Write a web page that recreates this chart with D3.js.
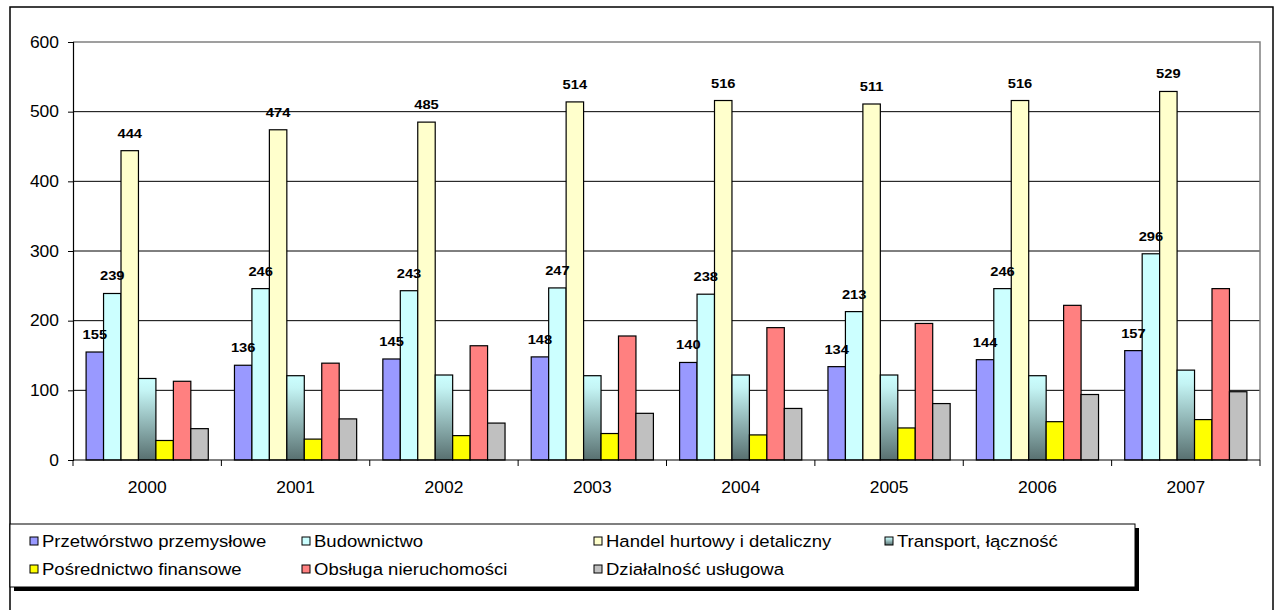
<!DOCTYPE html>
<html>
<head>
<meta charset="utf-8">
<script src="https://cdn.jsdelivr.net/npm/d3@7"></script>
<style>
    body { margin: 0; background: #fff; }
    svg { display: block; font-family: Arial, 'Liberation Sans', sans-serif; }
</style>
</head>
<body>
<div id="chart"></div>
<script>
'use strict';

var years = ['2000', '2001', '2002', '2003', '2004', '2005', '2006', '2007'];
var seriesNames = ['Przetwórstwo przemysłowe', 'Budownictwo', 'Handel hurtowy i detaliczny',
    'Transport, łączność', 'Pośrednictwo finansowe', 'Obsługa nieruchomości', 'Działalność usługowa'];
var przetworstwo = [155, 136, 145, 148, 140, 134, 144, 157];
var budownictwo = [239, 246, 243, 247, 238, 213, 246, 296];
var handel = [444, 474, 485, 514, 516, 511, 516, 529];
var transport = [117, 121, 122, 121, 122, 122, 121, 129];
var finanse = [28, 30, 35, 38, 36, 46, 55, 58];
var nieruchomosci = [113, 139, 164, 178, 190, 196, 222, 246];
var uslugi = [45, 59, 53, 67, 74, 81, 94, 98];
var yTicks = [0, 100, 200, 300, 400, 500, 600];
// only the first three series carry value labels
var labelled = [true, true, true, false, false, false, false];

var seriesValues = [przetworstwo, budownictwo, handel, transport, finanse, nieruchomosci, uslugi];
var fills = ['#9999ff', '#ccffff', '#ffffcc', 'url(#transGrad)', '#ffff00', '#ff8080', '#c0c0c0'];

var width = 1277, height = 610;
var plot = {left: 73, right: 1260, top: 42, bottom: 460};
var sx = 1.09; // the original picture is a bit wider than it is tall

var svg = d3.select('#chart').append('svg')
    .attr('width', width)
    .attr('height', height);

var grad = svg.append('defs').append('linearGradient')
    .attr('id', 'transGrad')
    .attr('x1', 0).attr('y1', 0).attr('x2', 0).attr('y2', 1);
grad.append('stop').attr('offset', '0%').attr('stop-color', '#ccffff');
grad.append('stop').attr('offset', '15%').attr('stop-color', '#c4f4f4');
grad.append('stop').attr('offset', '100%').attr('stop-color', '#587070');

// outer chart frame
svg.append('rect')
    .attr('x', 10).attr('y', 7)
    .attr('width', 1263).attr('height', 640)
    .attr('fill', '#fff')
    .attr('stroke', '#000')
    .attr('stroke-width', 1.5);

var x0 = d3.scaleBand()
    .domain(years)
    .range([plot.left, plot.right])
    .paddingInner(0).paddingOuter(0);

var x1 = d3.scaleBand()
    .domain(d3.range(seriesNames.length))
    .range([0, x0.bandwidth()])
    .paddingInner(0).paddingOuter(0.75);

var y = d3.scaleLinear()
    .domain([0, 600])
    .range([plot.bottom, plot.top]);

// gridlines
svg.append('g').selectAll('line')
    .data(yTicks.filter(function(t) { return t > 0 && t < 600; }))
    .enter().append('line')
    .attr('x1', plot.left).attr('x2', plot.right)
    .attr('y1', function(d) { return y(d); })
    .attr('y2', function(d) { return y(d); })
    .attr('stroke', '#000')
    .attr('stroke-width', 1);

// plot area border top + right (grey)
svg.append('path')
    .attr('d', 'M' + plot.left + ',' + y(600) + 'H' + plot.right + 'V' + plot.bottom)
    .attr('fill', 'none')
    .attr('stroke', '#808080')
    .attr('stroke-width', 1.5);

// bars
var groups = svg.append('g').selectAll('g')
    .data(years)
    .enter().append('g')
    .attr('transform', function(d) { return 'translate(' + x0(d) + ',0)'; });

groups.selectAll('rect')
    .data(function(d, i) {
        return seriesValues.map(function(s, k) { return {k: k, v: s[i]}; });
    })
    .enter().append('rect')
    .attr('x', function(d) { return x1(d.k); })
    .attr('y', function(d) { return y(d.v); })
    .attr('width', x1.bandwidth())
    .attr('height', function(d) { return y(0) - y(d.v); })
    .attr('fill', function(d) { return fills[d.k]; })
    .attr('stroke', '#000')
    .attr('stroke-width', 1.2);

groups.selectAll('text')
    .data(function(d, i) {
        return seriesValues.map(function(s, k) { return {k: k, v: s[i]}; })
            .filter(function(d) { return labelled[d.k]; });
    })
    .enter().append('text')
    .attr('transform', function(d) {
        return 'translate(' + (x1(d.k) + x1.bandwidth() / 2) + ',' + (y(d.v) - 13) + ') scale(' + sx + ',1)';
    })
    .attr('text-anchor', 'middle')
    .style('font-size', '13.5px')
    .style('font-weight', 'bold')
    .text(function(d) { return d.v; });

// axes
var yAxis = svg.append('g')
    .attr('transform', 'translate(' + plot.left + ',0)')
    .call(d3.axisLeft(y).tickValues(yTicks).tickSize(5).tickPadding(9));
yAxis.select('.domain').attr('stroke', '#000').attr('stroke-width', 1.2);
yAxis.selectAll('.tick text')
    .attr('x', -14 / sx)
    .attr('transform', 'scale(' + sx + ',1)')
    .style('font-size', '16px').attr('fill', '#000')
    .attr('font-family', null);

var xBound = d3.scaleLinear().domain([0, years.length]).range([plot.left, plot.right]);
var xAxis = svg.append('g')
    .attr('transform', 'translate(0,' + plot.bottom + ')');
xAxis.append('line')
    .attr('x1', plot.left).attr('x2', plot.right)
    .attr('stroke', '#000').attr('stroke-width', 1.2);
xAxis.selectAll('.tick-mark')
    .data(d3.range(years.length + 1))
    .enter().append('line')
    .attr('class', 'tick-mark')
    .attr('x1', function(d) { return xBound(d); })
    .attr('x2', function(d) { return xBound(d); })
    .attr('y1', 0).attr('y2', 6)
    .attr('stroke', '#000');
xAxis.selectAll('.year')
    .data(years)
    .enter().append('text')
    .attr('class', 'year')
    .attr('transform', function(d) {
        return 'translate(' + (x0(d) + x0.bandwidth() / 2) + ',33) scale(' + sx + ',1)';
    })
    .attr('text-anchor', 'middle')
    .style('font-size', '16px')
    .text(function(d) { return d; });

// legend
var legend = {x: 10, y: 524, w: 1125, h: 63};
svg.append('rect')
    .attr('x', legend.x + 4).attr('y', legend.y + 4)
    .attr('width', legend.w).attr('height', legend.h)
    .attr('fill', '#000');
svg.append('rect')
    .attr('x', legend.x).attr('y', legend.y)
    .attr('width', legend.w).attr('height', legend.h)
    .attr('fill', '#fff')
    .attr('stroke', '#000')
    .attr('stroke-width', 1);

var colX = [30, 302, 594, 885];
var rowY = [541, 569];
var items = svg.append('g').selectAll('g')
    .data(seriesNames)
    .enter().append('g')
    .attr('transform', function(d, i) {
        return 'translate(' + colX[i % 4] + ',' + rowY[Math.floor(i / 4)] + ')';
    });
items.append('rect')
    .attr('x', 0).attr('y', -4)
    .attr('width', 8).attr('height', 8)
    .attr('fill', function(d, i) { return fills[i]; })
    .attr('stroke', '#000')
    .attr('stroke-width', 1);
items.append('text')
    .attr('transform', 'translate(12,6) scale(' + sx + ',1)')
    .style('font-size', '17px')
    .text(function(d) { return d; });
</script>
</body>
</html>
